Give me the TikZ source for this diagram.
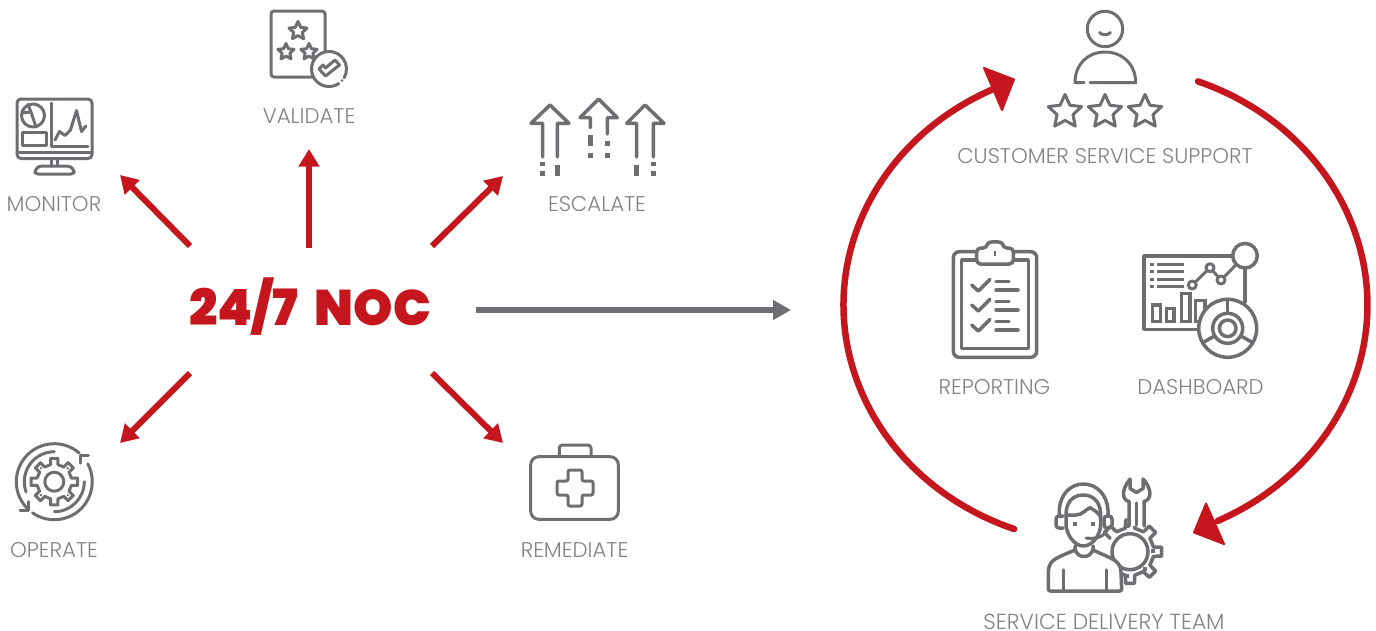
\documentclass[tikz,border=0pt]{standalone}
\usepackage{fontspec}
\setmainfont{Poppins Light}
\newfontfamily\nocfont{Poppins Black}
\definecolor{nred}{HTML}{C4161C}
\definecolor{ngray}{HTML}{6D6E71}
\definecolor{ltext}{HTML}{808285}
\usetikzlibrary{arrows.meta,calc}
\tikzset{
  icon/.style={draw=ngray,line width=3pt,line join=round,line cap=round},
  iconw/.style={icon,fill=white},
  iconb/.style={icon,line width=3.5pt},
  iconsq/.style={fill=ngray,draw=none},
  lab/.style={text=ltext,font=\fontsize{21.3}{21.3}\selectfont,anchor=base,inner sep=0pt,text depth=0pt},
  rarrow/.style={draw=nred,line width=6pt,-{Triangle[length=17.5pt,width=20pt]}},
  garrow/.style={draw=ngray,line width=5.5pt,-{Triangle[length=18pt,width=19pt]}},
  ring/.style={draw=nred,line width=6.5pt},
  rhead/.style={fill=nred,draw=nred,line width=2pt,line join=round},
}
\newcommand{\stella}[3]{%
  \draw[icon] \foreach \k in {0,...,9}{
    \ifnum\k=0 ($(#1,#2)+(-90:#3)$) \else -- ($(#1,#2)+({-90+36*\k}:{#3*(1-0.52*mod(\k,2))})$) \fi
  } -- cycle;}
\begin{document}
\begin{tikzpicture}[x=1pt,y=-1pt]
\useasboundingbox (0,0) rectangle (1376,630);
% ---- central
\node[text=nred,font=\nocfont\fontsize{50}{50}\selectfont,anchor=base,inner sep=0pt] (noc) at (310,325) {24/7\hspace{8pt} NOC};
\coordinate (mS) at (190,246); \coordinate (mE) at (120,175);
\coordinate (vS) at (309,248); \coordinate (vE) at (309,149);
\coordinate (eS) at (432,246); \coordinate (eE) at (503,176);
\coordinate (oS) at (190,373); \coordinate (oE) at (120,443);
\coordinate (rS) at (432,373); \coordinate (rE) at (503,443);
\coordinate (gS) at (476,310); \coordinate (gE) at (791,310);
\foreach \s/\e in {mS/mE,vS/vE,eS/eE,oS/oE,rS/rE} \draw[rarrow] (\s) -- (\e);
\draw[garrow] (gS) -- (gE);
% ---- ring
\coordinate (rtS) at (1198,81.4);
\coordinate (ltS) at (1014.2,529);
\draw[ring,line cap=round] (rtS) arc[start angle=-69.3,end angle=64.6,x radius=262,y radius=239];
\draw[ring,line cap=round] (ltS) arc[start angle=110.4,end angle=244.6,x radius=262,y radius=239];
\fill[rhead] (984,68) -- (1014,79.5) -- (1002,110) -- cycle;
\fill[rhead] (1224,544) -- (1194,532.5) -- (1206,503.5) -- cycle;
% ---- labels
\node[lab] (lmon) at (54,211) {MONITOR};
\node[lab] (lval) at (309,123) {VALIDATE};
\node[lab] (lesc) at (597,211) {ESCALATE};
\node[lab] (lope) at (54,557) {OPERATE};
\node[lab] (lrem) at (574.5,557) {REMEDIATE};
\node[lab] (lcus) at (1105,163) {CUSTOMER SERVICE SUPPORT};
\node[lab] (lrep) at (994.5,394) {REPORTING};
\node[lab] (ldas) at (1200.5,394) {DASHBOARD};
\node[lab,font=\fontsize{21.8}{21.8}\selectfont] (lser) at (1104,629) {SERVICE DELIVERY TEAM};
% ---- monitor
\draw[icon,rounded corners=4pt] (17,99) rectangle (92,158.5);
\draw[icon] (17,152) -- (92,152);
\draw[icon] (51.5,159) -- (51.5,166) (57.5,159) -- (57.5,166);
\draw[icon,rounded corners=3pt] (35,174) -- (35,170) -- (39,166) -- (70,166) -- (74,170) -- (74,174) -- cycle;
\draw[icon] (33,115.5) circle (11.5);
\draw[icon] (22,113) -- (31,112) -- (36,127) (31,112) -- (28,104.5);
\draw[icon] (22,132) rectangle (46,145);
\draw[icon] (51,103) -- (51,146) -- (88,146);
\draw[icon] (55,140) -- (59.5,131.5) -- (65,135.5) -- (70.5,130) -- (76.5,110.5) -- (81.5,131.5) -- (86,126);
% ---- validate
\draw[icon,rounded corners=3pt] (271,11) rectangle (325,77);
\stella{298}{31}{9.5}
\stella{286}{52}{8.5}
\stella{309}{52}{8.5}
\fill[white] (329,69) circle (17.5);
\draw[icon] ($(329,69)+(56:17.5)$) arc[start angle=56,end angle=390,radius=17.5];
\fill[ngray] ($(329,69)+(42:17.5)$) circle (1.5);
\draw[icon] (319,69) -- (325.5,76) -- (339.5,65) -- (335,60) -- (325.5,68) -- (323,65) -- cycle;
% ---- escalate
\draw[iconb] (542.7,157) -- (542.7,123.3) -- (531,123.3) -- (550,105) -- (569,123.3) -- (557.3,123.3) -- (557.3,157);
\draw[iconb] (590.3,127.7) -- (590.3,117.7) -- (580,117.7) -- (598.7,99) -- (617.3,117.7) -- (607.3,117.7) -- (607.3,134);
\draw[iconb] (636.7,157) -- (636.7,123.3) -- (626.7,123.3) -- (645,105) -- (664,123.3) -- (653.3,123.3) -- (653.3,157);
\foreach \x/\a/\b in {540.3/161.5/166,540.3/171/176,555/165/176,588/135/145.7,588/153.3/157.7,605/141/145.7,605/153.3/157.7,634.3/165/176,651/161.5/166,651/171/176}
  \fill[iconsq] (\x,\a) rectangle ++(5,\b-\a);
% ---- operate
\coordinate (oc) at (54.3,481.7);
\draw[icon] ($(oc)+(-49:38)$) arc[start angle=-49,end angle=-224,radius=38];
\draw[icon] ($(oc)+(125:38)$) arc[start angle=125,end angle=-28,radius=38];
\draw[icon] ($(oc)+(-90:30)$) arc[start angle=-90,end angle=-200,radius=30];
\draw[icon] ($(oc)+(90:30)$) arc[start angle=90,end angle=0,radius=30];
\draw[icon] (20,510) -- (28.3,510) -- (28.3,501.7);
\draw[icon] (88.3,455) -- (80,455) -- (80,463);
\draw[icon] (oc) circle (9.5);
\draw[icon] \foreach \a [count=\i] in {0,45,...,315} {
  \ifnum\i=1 ($(oc)+(\a-12:17.5)$) \else -- ($(oc)+(\a-12:17.5)$) \fi
  -- ($(oc)+(\a-9:23.5)$) -- ($(oc)+(\a+9:23.5)$) -- ($(oc)+(\a+12:17.5)$)
} -- cycle;
\foreach \a in {45,135,225,315}\fill[ngray] ($(oc)+(\a:19)$) circle (1.3);
% ---- remediate
\draw[icon,rounded corners=8pt] (530.7,456.7) rectangle (618.3,519.3);
\draw[icon,rounded corners=3pt] (559.3,456) -- (559.3,445) -- (591,445) -- (591,456);
\draw[icon,rounded corners=2pt] (568,470) -- (582,470) -- (582,481) -- (593,481) -- (593,495) -- (582,495) -- (582,506) -- (568,506) -- (568,495) -- (557,495) -- (557,481) -- (568,481) -- cycle;
% ---- customer
\draw[icon] (1105,29) circle (17.7);
\draw[icon] (1099.5,32.5) .. controls (1102,35.5) and (1108,35.5) .. (1110.5,32.5);
\draw[icon] (1084,82.7) -- (1075,82.7) .. controls (1075,64) and (1088,52) .. (1105,52) .. controls (1122,52) and (1135.7,64) .. (1135.7,82.7) -- (1090,82.7);
\stella{1065}{112}{17.5}
\stella{1105}{112}{17.5}
\stella{1145}{112}{17.5}
% ---- clipboard
\draw[icon,line width=3.5pt,rounded corners=6pt] (953.3,251.7) rectangle (1036.7,357.3);
\draw[icon,line width=3.5pt] (961.7,260) rectangle (1028.3,348.3);
\draw[iconw,line width=3.5pt,rounded corners=4pt] (976.7,264) -- (976.7,248) -- (987,248) .. controls (988,241) and (1002,241) .. (1003,248) -- (1013.3,248) -- (1013.3,264) -- cycle;
\draw[ngray,line width=2.5pt] (995,251) -- (995,256);
\foreach \d in {0,20,40}{
  \draw[iconb] (971.7,285+\d) -- (978.3,291+\d) -- (990,279.3+\d);
  \draw[iconb] (996,281.7+\d) -- (1009,281.7+\d) (996,290+\d) -- (1018,290+\d);
}
% ---- dashboard
\draw[icon,line width=3.5pt,line cap=butt] (1234,256) -- (1144,256) -- (1144,329.3) -- (1202,329.3);
\draw[icon,line width=3.5pt] (1245,268) -- (1245,302);
\foreach \y in {264.3,271.7,279.3,286.7}{
  \draw[ngray,line width=3.5pt] (1150,\y) -- (1154,\y) (1157.3,\y) -- (1184,\y);
}
\draw[icon] (1192.3,285) -- (1210,267.7) -- (1221,280) -- (1245,255.7);
\foreach \x/\y in {1192.3/285,1210/267.7,1221/280}\draw[iconw] (\x,\y) circle (4);
\draw[iconw,line width=3.5pt] (1245,255.7) circle (12.3);
\draw[icon,line width=3.5pt,line join=miter] (1152.7,321.7) rectangle (1160.7,305);
\draw[icon,line width=3.5pt,line join=miter] (1166.7,321.7) rectangle (1174,308.3);
\draw[icon,line width=3.5pt,line join=miter] (1181.7,321.7) rectangle (1190,293.3);
\draw[icon,line width=3.5pt,line join=miter] (1195.7,321.7) rectangle (1205,300.7);
\coordinate (dc) at (1227.7,328.3);
\draw[iconw,line width=3.5pt] (dc) circle (29);
\draw[icon,line width=3.5pt] (dc) circle (15);
\draw[icon,line width=3.5pt] (dc) circle (8.3);
\foreach \a in {-90,30,150}\draw[icon,line width=3.5pt] ($(dc)+(\a:15)$) -- ($(dc)+(\a:29)$);
% ---- team: gear and wrench
\coordinate (tc) at (1130,551.7);
\draw[iconw,line width=3.5pt] \foreach \a [count=\i] in {-135,-90,...,135} {
  \ifnum\i=1 ($(tc)+(\a-11:24)$) \else -- ($(tc)+(\a-11:24)$) \fi
  -- ($(tc)+(\a-8:32)$) -- ($(tc)+(\a+8:32)$) -- ($(tc)+(\a+11:24)$)
};
\fill[white] (1129,500) rectangle (1144,526);
\draw[icon,line width=3.5pt] (1129,526) -- (1129,501.5) .. controls (1122,500) and (1121,490) .. (1130,479) -- (1130,488.5) -- (1136.5,492.5) -- (1143,488.5) -- (1143,479) .. controls (1153,490) and (1151,500) .. (1144,501.5) -- (1144,526);
\draw[icon,line width=3.5pt] (1136.5,503) -- (1136.5,525);
\foreach \x/\y in {1126.7/526,1152.7/551,1145/569,1126.7/576}\fill[iconsq] (\x,\y) ++(-2,-2) rectangle ++(4,4);
\draw[iconw,line width=3.5pt] (tc) circle (18);
% ---- team: person
\draw[iconw,line width=3.5pt,rounded corners=2pt] (1048.3,591) -- (1048.3,571) .. controls (1050,560) and (1056,558) .. (1075,550) -- (1093,550) .. controls (1110,558) and (1119,560) .. (1121,571) -- (1121.7,591) -- cycle;
\draw[icon,line width=3.5pt] (1063.3,570) -- (1063.3,590) (1106.7,570) -- (1106.7,590);
\draw[iconw,line width=3.5pt] (1075,546) -- (1075,549) .. controls (1077,559) and (1091,559) .. (1093,549) -- (1093,546);
\draw[iconw,line width=3.5pt] (1066,515) -- (1066,525) .. controls (1067,536) and (1075,546) .. (1083.3,546) .. controls (1092,546) and (1100,536) .. (1100.7,525) -- (1100.7,515);
\draw[icon,line width=3.5pt] (1066,515) -- (1076,515) .. controls (1082,515) and (1085,510) .. (1090,507.7) .. controls (1094,510) and (1098,512) .. (1100.7,517);
\draw[icon,line width=3.5pt] (1059.3,515) -- (1059.3,510) .. controls (1060,495) and (1070,484) .. (1083.3,484) .. controls (1097,484) and (1107,495) .. (1108,510) -- (1108,515);
\draw[icon,line width=3.5pt] (1066,515) .. controls (1066,503) and (1072,495) .. (1083.3,495) .. controls (1094,495) and (1100.7,503) .. (1100.7,515);
\draw[icon,line width=3.5pt,rounded corners=3pt] (1063,516) -- (1056,516) -- (1056,528) -- (1063,528);
\draw[icon,line width=3.5pt,rounded corners=3pt] (1104,516) -- (1112,516) -- (1112,528) -- (1104,528) -- cycle;
\fill[iconsq] (1073,521.5) rectangle ++(4,4);
\fill[iconsq] (1091.3,521.5) rectangle ++(4,4);
\draw[icon] (1086,538) .. controls (1095,539) and (1103,538) .. (1107,530);
\end{tikzpicture}
\end{document}
